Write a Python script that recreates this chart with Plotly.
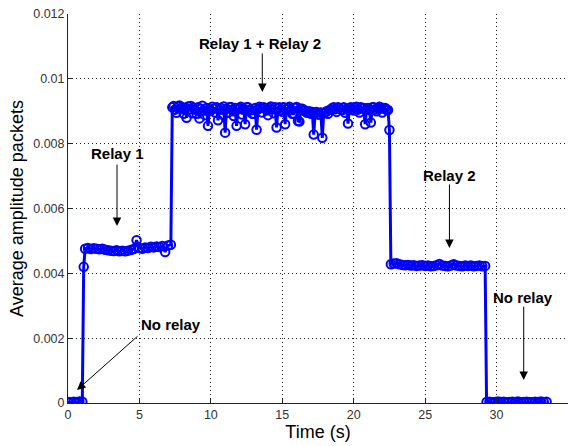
import plotly.graph_objects as go

# ---- data (amplitude in units of 1e-3) ----
AMP_UNIT = 1e-3

no_relay_a_t = [0.0, 0.2, 0.4, 0.6, 0.8, 1.0]
no_relay_a_v = [0.03, 0.02, 0.04, 0.03, 0.05, 0.04]

relay1_t = [1.1, 1.2, 1.4, 1.6, 1.8, 2.0, 2.2, 2.4, 2.6, 2.8, 3.0, 3.2, 3.4, 3.6, 3.8, 4.0,
            4.2, 4.4, 4.6, 4.8, 5.0, 5.2, 5.4, 5.6, 5.8, 6.0, 6.2, 6.4, 6.6, 6.8, 7.0, 7.2]
relay1_v = [4.20, 4.76, 4.78, 4.75, 4.77, 4.76, 4.74, 4.76, 4.73, 4.71, 4.70, 4.69, 4.71, 4.68, 4.70, 4.68,
            4.70, 4.72, 4.75, 5.02, 4.78, 4.76, 4.80, 4.78, 4.82, 4.80, 4.83, 4.81, 4.84, 4.66, 4.86, 4.88]

relay12_t = [7.3, 7.4, 7.5, 7.6, 7.7, 7.8, 7.9,
             8.0, 8.1, 8.2, 8.3, 8.4, 8.5, 8.6, 8.7, 8.8, 8.9,
             9.0, 9.1, 9.2, 9.3, 9.4, 9.5, 9.6, 9.7, 9.8, 9.9,
             10.0, 10.1, 10.2, 10.3, 10.4, 10.5, 10.6, 10.7, 10.8, 10.9,
             11.0, 11.1, 11.2, 11.3, 11.4, 11.5, 11.6, 11.7, 11.8, 11.9,
             12.0, 12.1, 12.2, 12.3, 12.4, 12.5, 12.6, 12.7, 12.8, 12.9,
             13.0, 13.1, 13.2, 13.3, 13.4, 13.5, 13.6, 13.7, 13.8, 13.9,
             14.0, 14.1, 14.2, 14.3, 14.4, 14.5, 14.6, 14.7, 14.8, 14.9,
             15.0, 15.1, 15.2, 15.3, 15.4, 15.5, 15.6, 15.7, 15.8, 15.9,
             16.0, 16.1, 16.2, 16.3, 16.4, 16.5, 16.6, 16.7, 16.8, 16.9,
             17.0, 17.1, 17.2, 17.3, 17.4, 17.5, 17.6, 17.7, 17.8, 17.9,
             18.0, 18.1, 18.2, 18.3, 18.4, 18.5, 18.6, 18.7, 18.8, 18.9,
             19.0, 19.1, 19.2, 19.3, 19.4, 19.5, 19.6, 19.7, 19.8, 19.9,
             20.0, 20.1, 20.2, 20.3, 20.4, 20.5, 20.6, 20.7, 20.8, 20.9,
             21.0, 21.1, 21.2, 21.3, 21.4, 21.5, 21.6, 21.7, 21.8, 21.9,
             22.0, 22.1, 22.2, 22.3, 22.4, 22.5]
relay12_v = [9.12, 9.16, 9.05, 8.95, 9.14, 9.18, 9.08,
             9.12, 8.92, 9.10, 8.80, 9.15, 9.06, 9.16, 8.94, 9.10, 9.05,
             8.92, 9.12, 8.78, 9.08, 9.17, 9.02, 8.88, 9.10, 8.55, 9.06,
             9.02, 9.14, 9.08, 8.96, 9.12, 8.72, 9.05, 9.10, 8.90, 9.15,
             8.34, 9.08, 8.95, 9.12, 9.13, 9.04, 8.85, 9.10, 8.55, 9.06,
             9.10, 9.14, 8.90, 9.08, 8.60, 9.12, 9.12, 9.02, 9.05, 8.92,
             8.92, 9.10, 8.43, 9.06, 9.14, 9.10, 8.96, 9.12, 9.10, 9.04,
             8.88, 9.10, 9.15, 9.06, 8.94, 9.12, 8.50, 9.08, 9.12, 9.04,
             8.98, 9.12, 8.60, 9.06, 9.10, 9.14, 9.04, 8.92, 8.92, 9.10,
             9.13, 8.70, 8.68, 9.08, 9.08, 9.02, 9.02, 8.96, 8.95, 9.00,
             8.92, 8.98, 8.28, 8.94, 8.98, 8.90, 8.90, 8.96, 8.18, 8.94,
             8.96, 9.00, 8.92, 9.04, 9.05, 9.10, 9.12, 9.06, 8.98, 9.12,
             9.10, 9.05, 9.04, 9.12, 8.95, 9.08, 8.62, 9.10, 9.12, 9.06,
             9.02, 9.10, 9.14, 9.05, 8.96, 9.12, 9.08, 9.10, 8.60, 9.06,
             9.10, 9.04, 8.65, 9.12, 9.12, 9.06, 9.00, 9.10, 9.14, 9.08,
             8.96, 9.10, 9.10, 9.04, 9.04, 8.42]

relay2_t = [22.6, 22.8, 23.0, 23.2, 23.4, 23.6, 23.8, 24.0, 24.2, 24.4, 24.6, 24.8, 25.0, 25.2,
            25.4, 25.6, 25.8, 26.0, 26.2, 26.4, 26.6, 26.8, 27.0, 27.2, 27.4, 27.6, 27.8, 28.0,
            28.2, 28.4, 28.6, 28.8, 29.0, 29.2]
relay2_v = [4.28, 4.30, 4.31, 4.28, 4.26, 4.25, 4.26, 4.24, 4.25, 4.23, 4.24, 4.25, 4.23, 4.24,
            4.22, 4.23, 4.25, 4.29, 4.24, 4.23, 4.22, 4.24, 4.28, 4.24, 4.23, 4.22, 4.24, 4.23,
            4.24, 4.22, 4.23, 4.24, 4.22, 4.23]

no_relay_b_t = [29.3, 29.5, 29.7, 29.9, 30.1, 30.3, 30.5, 30.7, 30.9, 31.1, 31.3, 31.5, 31.7,
                31.9, 32.1, 32.3, 32.5, 32.7, 32.9, 33.1, 33.3, 33.5]
no_relay_b_v = [0.03, 0.04, 0.02, 0.03, 0.05, 0.03, 0.04, 0.02, 0.03, 0.04, 0.03, 0.05, 0.02,
                0.03, 0.04, 0.03, 0.02, 0.04, 0.03, 0.05, 0.03, 0.04]

x_tick_vals = [0, 5, 10, 15, 20, 25, 30, 35]
y_tick_vals = [0, 0.002, 0.004, 0.006, 0.008, 0.01, 0.012]
y_tick_text = ["0", "0.002", "0.004", "0.006", "0.008", "0.01", "0.012"]

# annotations: (label, text_x, text_y, tail_x, tail_y, tip_x, tip_y)
labels = [
    ("Relay 1", 3.43, 0.00771, 3.43, 0.00740, 3.43, 0.00546),
    ("Relay 1 + Relay 2", 13.45, 0.01110, 13.6, 0.01083, 13.6, 0.00959),
    ("Relay 2", 26.7, 0.00703, 26.7, 0.00679, 26.7, 0.00478),
    ("No relay", 31.85, 0.00327, 31.9, 0.00302, 31.9, 0.00071),
    ("No relay", 7.2, 0.00242, 4.97, 0.00210, 0.63, 0.00040),
]

time = no_relay_a_t + relay1_t + relay12_t + relay2_t + no_relay_b_t
amp = [v * AMP_UNIT for v in (no_relay_a_v + relay1_v + relay12_v + relay2_v + no_relay_b_v)]

FONT = "Liberation Sans, Arial, sans-serif"

fig = go.Figure()
fig.add_trace(go.Scatter(
    x=time, y=amp, mode="lines+markers",
    line=dict(color="#0000ff", width=3),
    marker=dict(symbol="circle-open", size=8.5, color="#0000ff", line=dict(width=2, color="#0000ff")),
    showlegend=False,
))

for lab, tx, ty, ax_, ay_, px, py in labels:
    fig.add_annotation(x=tx, y=ty, text="<b>%s</b>" % lab, showarrow=False,
                       font=dict(family=FONT, size=15, color="black"))
    fig.add_annotation(x=px, y=py, ax=ax_, ay=ay_, axref="x", ayref="y", text="",
                       showarrow=True, arrowhead=2, arrowsize=1.7, arrowwidth=1, arrowcolor="black")

axis_common = dict(
    showline=True, linecolor="#222", linewidth=1,
    ticks="inside", ticklen=5, tickcolor="#222",
    showgrid=True, gridcolor="#222", griddash="1px,3px", gridwidth=1,
    zeroline=False, mirror=False, automargin=False,
    tickfont=dict(family=FONT, size=12.5, color="#333"),
)

fig.update_layout(
    width=573, height=446,
    margin=dict(l=68, r=5, t=14, b=43),
    paper_bgcolor="white", plot_bgcolor="white",
    xaxis=dict(range=[0, 35], tickvals=x_tick_vals,
               title=dict(text="Time (s)", font=dict(family=FONT, size=18, color="black"), standoff=2),
               **axis_common),
    yaxis=dict(range=[0, 0.012], tickvals=y_tick_vals, ticktext=y_tick_text,
               title=dict(text="Average amplitude packets", font=dict(family=FONT, size=18, color="black"), standoff=4),
               **axis_common),
)

fig.write_html("out.html", config={"displayModeBar": False},
               post_script="document.body.style.margin='0px';")
